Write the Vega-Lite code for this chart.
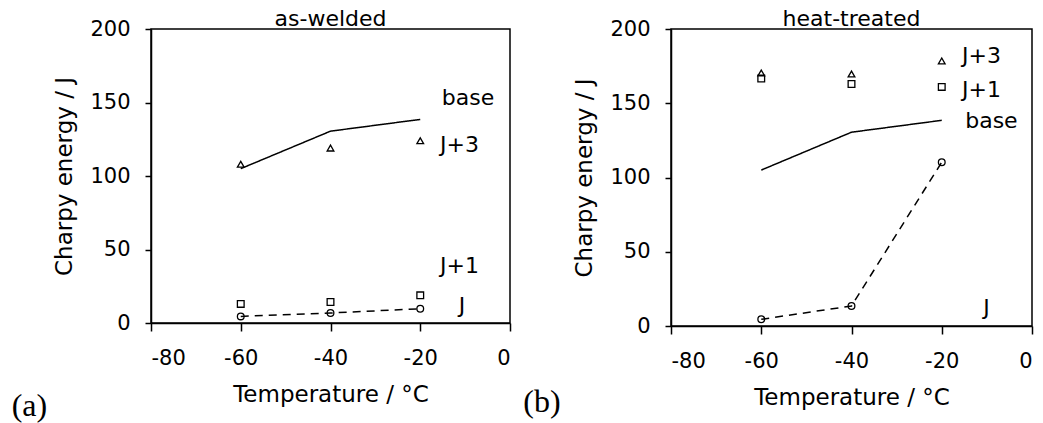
{
  "$schema": "https://vega.github.io/schema/vega-lite/v6.json",
  "padding": {"left": 10, "top": 7, "right": 4, "bottom": 0},
  "background": "white",
  "config": {
    "font": "DejaVu Sans",
    "view": {"stroke": "black", "strokeWidth": 1.5},
    "axis": {"grid": false, "domainColor": "black", "tickColor": "black", "labelColor": "black", "titleColor": "black", "labelFontSize": 21, "titleFontSize": 23, "titleFontWeight": "normal", "domainWidth": 1.5, "tickWidth": 1.5, "labelExpr": "toString(datum.value)"},
    "axisX": {"tickSize": 8, "labelPadding": 16, "titlePadding": 15},
    "axisY": {"tickSize": 6, "labelPadding": 15, "titlePadding": 13},
    "title": {"fontSize": 22, "fontWeight": "normal", "color": "black", "frame": "group", "offset": -13}
  },
  "datasets": {
    "pts": [
      {"panel": "a", "series": "base", "temp": -60, "energy": 105},
      {"panel": "a", "series": "base", "temp": -40, "energy": 130.5},
      {"panel": "a", "series": "base", "temp": -20, "energy": 138.5},
      {"panel": "a", "series": "J", "temp": -60, "energy": 4.5},
      {"panel": "a", "series": "J", "temp": -40, "energy": 6.8},
      {"panel": "a", "series": "J", "temp": -20, "energy": 9.7},
      {"panel": "a", "series": "J+1", "temp": -60, "energy": 13},
      {"panel": "a", "series": "J+1", "temp": -40, "energy": 14.3},
      {"panel": "a", "series": "J+1", "temp": -20, "energy": 18.8},
      {"panel": "a", "series": "J+3", "temp": -60, "energy": 108},
      {"panel": "a", "series": "J+3", "temp": -40, "energy": 119},
      {"panel": "a", "series": "J+3", "temp": -20, "energy": 124},
      {"panel": "b", "series": "base", "temp": -60, "energy": 105},
      {"panel": "b", "series": "base", "temp": -40, "energy": 130.5},
      {"panel": "b", "series": "base", "temp": -20, "energy": 138.5},
      {"panel": "b", "series": "J", "temp": -60, "energy": 4.5},
      {"panel": "b", "series": "J", "temp": -40, "energy": 13.5},
      {"panel": "b", "series": "J", "temp": -20, "energy": 110.3},
      {"panel": "b", "series": "J+1", "temp": -60, "energy": 166.6},
      {"panel": "b", "series": "J+1", "temp": -40, "energy": 163},
      {"panel": "b", "series": "J+1", "temp": -20, "energy": 161},
      {"panel": "b", "series": "J+3", "temp": -60, "energy": 170.4},
      {"panel": "b", "series": "J+3", "temp": -40, "energy": 169.7},
      {"panel": "b", "series": "J+3", "temp": -20, "energy": 178.5}
    ],
    "labels": [
      {"panel": "a", "label": "base", "temp": -15.2, "energy": 153},
      {"panel": "a", "label": "J+3", "temp": -15.6, "energy": 120.8},
      {"panel": "a", "label": "J+1", "temp": -15.6, "energy": 39},
      {"panel": "a", "label": "J", "temp": -11.4, "energy": 11.3},
      {"panel": "b", "label": "J+3", "temp": -15.5, "energy": 181.6},
      {"panel": "b", "label": "J+1", "temp": -15.5, "energy": 159},
      {"panel": "b", "label": "base", "temp": -14.8, "energy": 137.9},
      {"panel": "b", "label": "J", "temp": -10.8, "energy": 12.4}
    ],
    "tags": [
      {"panel": "a", "label": "(a)", "temp": -107.1, "energy": -56.3},
      {"panel": "b", "label": "(b)", "temp": -108.6, "energy": -51.3}
    ]
  },
  "spacing": 10,
  "resolve": {"scale": {"x": "independent", "y": "independent"}},
  "hconcat": [
    {
      "width": 359, "height": 294,
      "title": {"text": "as-welded"},
      "encoding": {
        "x": {"field": "temp", "type": "quantitative", "scale": {"domain": [-80, 0], "nice": false, "zero": false}, "axis": {"values": [-80, -60, -40, -20, 0], "title": "Temperature / °C"}},
        "y": {"field": "energy", "type": "quantitative", "scale": {"domain": [0, 200], "nice": false}, "axis": {"values": [0, 50, 100, 150, 200], "title": "Charpy energy / J"}}
      },
      "layer": [
        {
          "data": {"name": "pts"},
          "transform": [{"filter": "datum.panel == 'a' && (datum.series == 'base' || datum.series == 'J')"}],
          "mark": {"type": "line", "color": "black", "strokeWidth": 1.5},
          "encoding": {
            "detail": {"field": "series"},
            "strokeDash": {"field": "series", "type": "nominal", "scale": {"domain": ["base", "J"], "range": [[1, 0], [8, 6]]}, "legend": null}
          }
        },
        {
          "data": {"name": "pts"},
          "transform": [{"filter": "datum.panel == 'a' && datum.series != 'base'"}],
          "mark": {"type": "point", "color": "black", "filled": false, "strokeWidth": 1.3, "opacity": 1},
          "encoding": {
            "shape": {"field": "series", "type": "nominal", "scale": {"domain": ["J", "J+1", "J+3"], "range": ["circle", "square", "triangle-up"]}, "legend": null},
            "size": {"value": 45}
          }
        },
        {
          "data": {"name": "labels"},
          "transform": [{"filter": "datum.panel == 'a'"}],
          "mark": {"type": "text", "align": "left", "baseline": "middle", "fontSize": 22, "color": "black"},
          "encoding": {"text": {"field": "label"}}
        },
        {
          "data": {"name": "tags"},
          "transform": [{"filter": "datum.panel == 'a'"}],
          "mark": {"type": "text", "align": "center", "baseline": "middle", "fontSize": 32, "font": "Liberation Serif", "color": "black"},
          "encoding": {"text": {"field": "label"}}
        }
      ]
    },
    {
      "width": 361, "height": 297,
      "title": {"text": "heat-treated"},
      "encoding": {
        "x": {"field": "temp", "type": "quantitative", "scale": {"domain": [-80, 0], "nice": false, "zero": false}, "axis": {"values": [-80, -60, -40, -20, 0], "title": "Temperature / °C"}},
        "y": {"field": "energy", "type": "quantitative", "scale": {"domain": [0, 200], "nice": false}, "axis": {"values": [0, 50, 100, 150, 200], "title": "Charpy energy / J"}}
      },
      "layer": [
        {
          "data": {"name": "pts"},
          "transform": [{"filter": "datum.panel == 'b' && (datum.series == 'base' || datum.series == 'J')"}],
          "mark": {"type": "line", "color": "black", "strokeWidth": 1.5},
          "encoding": {
            "detail": {"field": "series"},
            "strokeDash": {"field": "series", "type": "nominal", "scale": {"domain": ["base", "J"], "range": [[1, 0], [8, 6]]}, "legend": null}
          }
        },
        {
          "data": {"name": "pts"},
          "transform": [{"filter": "datum.panel == 'b' && datum.series != 'base'"}],
          "mark": {"type": "point", "color": "black", "filled": false, "strokeWidth": 1.3, "opacity": 1},
          "encoding": {
            "shape": {"field": "series", "type": "nominal", "scale": {"domain": ["J", "J+1", "J+3"], "range": ["circle", "square", "triangle-up"]}, "legend": null},
            "size": {"value": 45}
          }
        },
        {
          "data": {"name": "labels"},
          "transform": [{"filter": "datum.panel == 'b'"}],
          "mark": {"type": "text", "align": "left", "baseline": "middle", "fontSize": 22, "color": "black"},
          "encoding": {"text": {"field": "label"}}
        },
        {
          "data": {"name": "tags"},
          "transform": [{"filter": "datum.panel == 'b'"}],
          "mark": {"type": "text", "align": "center", "baseline": "middle", "fontSize": 32, "font": "Liberation Serif", "color": "black"},
          "encoding": {"text": {"field": "label"}}
        }
      ]
    }
  ]
}
